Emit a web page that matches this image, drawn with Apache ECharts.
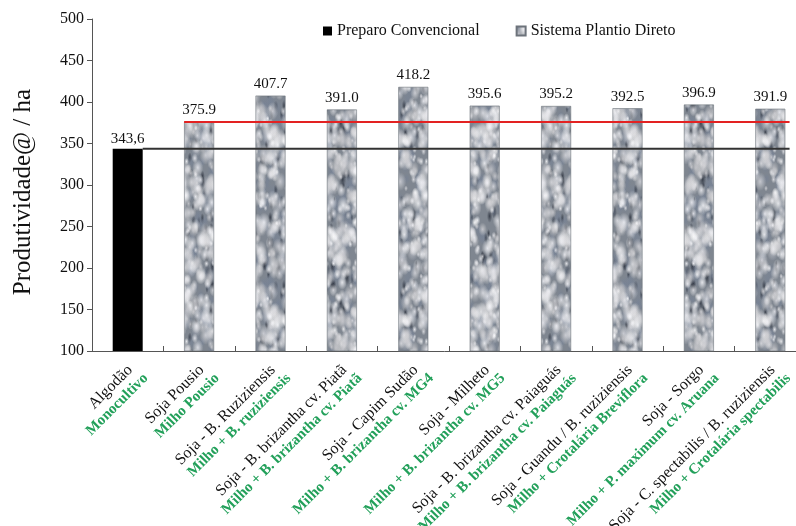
<!DOCTYPE html>
<html>
<head>
<meta charset="utf-8">
<script src="https://cdn.jsdelivr.net/npm/echarts@6/dist/echarts.min.js"></script>
<style>
  html, body { margin: 0; padding: 0; background: #fff; }
  #chart { width: 796px; height: 526px; }
</style>
</head>
<body>
<div id="chart"></div>
<script>
// Cropping systems: first line (black) = soybean phase, second line (green) = maize phase
const systemTop = [
  'Algodão', 'Soja Pousio', 'Soja - B. Ruziziensis', 'Soja - B. brizantha cv. Piatã',
  'Soja - Capim Sudão', 'Soja - Milheto', 'Soja - B. brizantha cv. Paiaguás',
  'Soja - Guandu / B. ruziziensis', 'Soja - Sorgo', 'Soja - C. spectabilis / B. ruziziensis'
];
const systemBottom = [
  'Monocultivo', 'Milho Pousio', 'Milho + B. ruziziensis', 'Milho + B. brizantha cv. Piatã',
  'Milho + B. brizantha cv. MG4', 'Milho + B. brizantha cv. MG5', 'Milho + B. brizantha cv. Paiaguás',
  'Milho + Crotalária Breviflora', 'Milho + P. maximum cv. Aruana', 'Milho + Crotalária spectabilis'
];
// Cotton yield (@/ha)
const convencionalValues = [343.6];
const plantioDiretoValues = [375.9, 407.7, 391.0, 418.2, 395.6, 395.2, 392.5, 396.9, 391.9];
const yTicks = [100, 150, 200, 250, 300, 350, 400, 450, 500];

const serif = '"Liberation Serif", "Times New Roman", serif';

// Cotton-boll texture used to fill the no-till bars
function cottonTexture() {
  const w = 120, h = 180;
  const c = document.createElement('canvas');
  c.width = w; c.height = h;
  const g = c.getContext('2d');
  g.fillStyle = '#7f8690';
  g.fillRect(0, 0, w, h);
  let s = 918273;
  const next = () => { s = (s * 1103515245 + 12345) & 0x7fffffff; return s / 0x7fffffff; };
  const blob = (x, y, rx, ry, inner, outer) => {
    for (let dx = -w; dx <= w; dx += w) {
      for (let dy = -h; dy <= h; dy += h) {
        g.save();
        g.translate(x + dx, y + dy);
        g.scale(rx / ry, 1);
        const gr = g.createRadialGradient(0, 0, 0, 0, 0, ry);
        gr.addColorStop(0, inner);
        gr.addColorStop(1, outer);
        g.fillStyle = gr;
        g.beginPath();
        g.arc(0, 0, ry, 0, Math.PI * 2);
        g.fill();
        g.restore();
      }
    }
  };
  // shadowed gaps between the bolls
  for (let i = 0; i < 130; i++) {
    const r = 2 + next() * 4;
    blob(next() * w, next() * h, r * 0.6, r * 1.5, 'rgba(36,42,54,0.75)', 'rgba(36,42,54,0)');
  }
  // bluish mid tones
  for (let i = 0; i < 220; i++) {
    const r = 3 + next() * 5;
    blob(next() * w, next() * h, r * 0.8, r * 1.4, 'rgba(118,130,150,0.6)', 'rgba(118,130,150,0)');
  }
  // white cotton clumps
  for (let i = 0; i < 560; i++) {
    const l = 200 + Math.floor(next() * 55);
    const r = 2 + next() * 5;
    blob(next() * w, next() * h, r * 0.9, r * 1.4,
      'rgba(' + l + ',' + l + ',' + Math.min(255, l + 5) + ',0.8)', 'rgba(' + l + ',' + l + ',' + l + ',0)');
  }
  return c;
}
const cotton = { image: cottonTexture(), repetition: 'repeat' };

const n = systemTop.length;
const categories = systemTop.map((t, i) => '{a|' + t + '}\n{b|' + systemBottom[i] + '}');
const convData = systemTop.map((_, i) => i < convencionalValues.length ? convencionalValues[i] : '-');
const pdData = systemTop.map((_, i) => i === 0 ? '-' : plantioDiretoValues[i - 1]);

// Reference lines run from the bar edge to the right end of the plot (in category units)
const halfBar = 0.21;
const lineEnd = 9.27;

const chart = echarts.init(document.getElementById('chart'), null, { renderer: 'canvas' });
chart.setOption({
  animation: false,
  backgroundColor: '#fff',
  textStyle: { fontFamily: serif },
  legend: {
    left: 318, top: 18,
    itemWidth: 9, itemHeight: 9, itemGap: 36,
    icon: 'rect',
    textStyle: { fontFamily: serif, fontSize: 16, color: '#111' },
    data: ['Preparo Convencional', 'Sistema Plantio Direto']
  },
  grid: { left: 92, top: 19, bottom: 175, right: -10, containLabel: false, outerBoundsMode: 'none' },
  graphic: [{
    type: 'text',
    x: 23, y: 192,
    rotation: Math.PI / 2,
    style: {
      text: 'Produtividade@ / ha',
      font: '25px ' + serif,
      fill: '#111',
      align: 'center', verticalAlign: 'middle',
      textAlign: 'center', textVerticalAlign: 'middle'
    }
  }],
  xAxis: [{
    type: 'category',
    data: categories,
    axisLine: { lineStyle: { color: '#555', width: 1 } },
    axisTick: { show: true, inside: true, length: 5, interval: 0, lineStyle: { color: '#555' } },
    axisLabel: {
      interval: 0,
      rotate: 45,
      margin: 7,
      align: 'right',
      verticalAlign: 'top',
      lineHeight: 17,
      rich: {
        a: { fontFamily: serif, fontSize: 16, color: '#111', lineHeight: 17, padding: [0, 5, 0, 0] },
        b: { fontFamily: serif, fontSize: 15, fontWeight: 'bold', color: '#22a05a', lineHeight: 17 }
      }
    }
  }, {
    type: 'value',
    show: false,
    min: -0.5, max: n - 0.5
  }],
  yAxis: {
    type: 'value',
    min: yTicks[0], max: yTicks[yTicks.length - 1], interval: 50,
    splitLine: { show: false },
    axisLine: { show: true, onZero: false, lineStyle: { color: '#555', width: 1 } },
    axisTick: { show: true, length: 5, lineStyle: { color: '#555' } },
    axisLabel: { fontFamily: serif, fontSize: 16, color: '#111', margin: 8 }
  },
  series: [{
    name: 'Preparo Convencional',
    type: 'bar',
    data: convData,
    barWidth: 30,
    barGap: '-100%',
    itemStyle: { color: '#000' },
    label: {
      show: true, position: 'top', distance: 2,
      fontFamily: serif, fontSize: 15, color: '#111',
      formatter: p => p.value.toFixed(1).replace('.', ',')
    }
  }, {
    name: 'Sistema Plantio Direto',
    type: 'bar',
    data: pdData,
    barWidth: 30,
    itemStyle: { color: cotton, borderColor: '#6d737b', borderWidth: 0.6 },
    label: {
      show: true, position: 'top', distance: 4,
      fontFamily: serif, fontSize: 15, color: '#111',
      formatter: p => p.value.toFixed(1)
    }
  }, {
    name: 'convencional-ref',
    type: 'line',
    xAxisIndex: 1,
    data: [[0 + halfBar, convencionalValues[0]], [lineEnd, convencionalValues[0]]],
    symbol: 'none',
    z: 5,
    lineStyle: { color: '#333', width: 2 },
    silent: true
  }, {
    name: 'plantio-ref',
    type: 'line',
    xAxisIndex: 1,
    data: [[1 - halfBar, plantioDiretoValues[0]], [lineEnd, plantioDiretoValues[0]]],
    symbol: 'none',
    z: 5,
    lineStyle: { color: '#e32222', width: 2 },
    silent: true
  }]
});
</script>
</body>
</html>
